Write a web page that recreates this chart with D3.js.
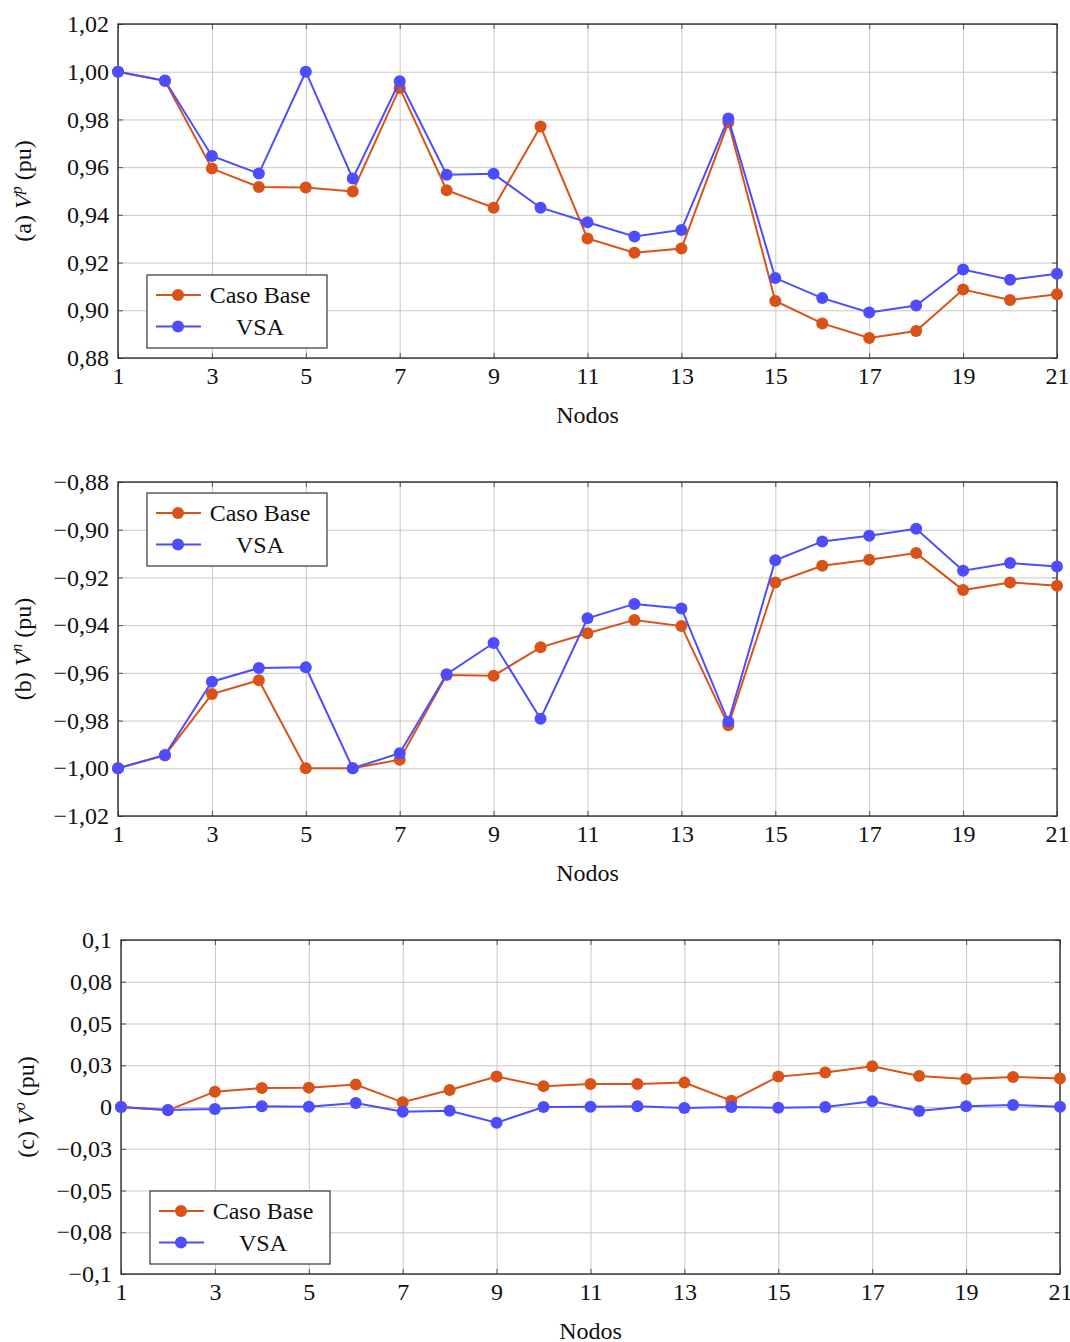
<!DOCTYPE html>
<html>
<head>
<meta charset="utf-8">
<script src="https://cdn.jsdelivr.net/npm/d3@7"></script>
<style>
  body { margin: 0; background: #fff; }
  svg text { font-family: "Liberation Serif", serif; fill: #111; }
</style>
</head>
<body>
<div id="chart"></div>
<script>
// Nodes 1..21
var nodos = d3.range(1, 22);
var xTicks = [1, 3, 5, 7, 9, 11, 13, 15, 17, 19, 21];

// (a) positive sequence voltage
var vpBase = [1.000, 0.9961, 0.9594, 0.9517, 0.9515, 0.9498, 0.9932, 0.9503, 0.9430, 0.9770,
              0.9301, 0.9241, 0.9259, 0.9788, 0.9039, 0.8945, 0.8884, 0.8913, 0.9087, 0.9043, 0.9067];
var vpVSA  = [1.000, 0.9963, 0.9647, 0.9573, 1.000, 0.9552, 0.9960, 0.9568, 0.9572, 0.9430,
              0.9369, 0.9309, 0.9337, 0.9804, 0.9135, 0.9051, 0.8991, 0.9020, 0.9171, 0.9128, 0.9153];
var yTicksA = [0.88, 0.90, 0.92, 0.94, 0.96, 0.98, 1.00, 1.02];
var yLabelsA = ["0,88", "0,90", "0,92", "0,94", "0,96", "0,98", "1,00", "1,02"];

// (b) negative sequence voltage
var vnBase = [-1.000, -0.9946, -0.9689, -0.9631, -1.000, -1.000, -0.9964, -0.9609, -0.9612, -0.9493,
              -0.9434, -0.9378, -0.9404, -0.9820, -0.9221, -0.9151, -0.9126, -0.9098, -0.9253, -0.9221, -0.9235];
var vnVSA  = [-1.000, -0.9944, -0.9637, -0.9580, -0.9577, -1.000, -0.9937, -0.9606, -0.9475, -0.9792,
              -0.9371, -0.9311, -0.9330, -0.9805, -0.9128, -0.9049, -0.9025, -0.8996, -0.9172, -0.9140, -0.9154];
var yTicksB = [-1.02, -1.00, -0.98, -0.96, -0.94, -0.92, -0.90, -0.88];
var yLabelsB = ["\u22121,02", "\u22121,00", "\u22120,98", "\u22120,96", "\u22120,94", "\u22120,92", "\u22120,90", "\u22120,88"];

// (c) zero sequence voltage
var voBase = [0.000, -0.0020, 0.0092, 0.0114, 0.0116, 0.0134, 0.0028, 0.0102, 0.0182, 0.0125,
              0.0138, 0.0138, 0.0146, 0.0038, 0.0182, 0.0206, 0.0244, 0.0186, 0.0168, 0.0180, 0.0170];
var voVSA  = [0.000, -0.0018, -0.0012, 0.0004, 0.0002, 0.0024, -0.0028, -0.0022, -0.0094, 0.0000,
              0.0002, 0.0004, -0.0006, 0.0000, -0.0004, 0.0000, 0.0034, -0.0024, 0.0004, 0.0012, 0.0002];
var yTicksC = [-0.1, -0.075, -0.05, -0.025, 0, 0.025, 0.05, 0.075, 0.1];
var yLabelsC = ["\u22120,1", "\u22120,08", "\u22120,05", "\u22120,03", "0", "0,03", "0,05", "0,08", "0,1"];

var seriesNames = ["Caso Base", "VSA"];
var colors = ["#d95319", "#4d4dff"];
var fs = 24;

var svg = d3.select("#chart").append("svg")
  .attr("width", 1070)
  .attr("height", 1342);

function styleText(s) {
  s.selectAll("text").attr("font-size", fs).attr("font-family", "Liberation Serif").attr("fill", "#111");
}

function drawPanel(p) {
  var x = d3.scaleLinear().domain([1, 21]).range([p.left, p.right]);
  var y = d3.scaleLinear().domain(p.domain).range([p.bottom, p.top]);
  var w = p.right - p.left, h = p.bottom - p.top;
  var g = svg.append("g");

  // grid
  g.append("g")
    .attr("transform", "translate(0," + p.bottom + ")")
    .call(d3.axisBottom(x).tickValues(xTicks).tickSize(-h).tickFormat(""))
    .call(function(s) { s.select(".domain").remove(); s.selectAll("line").attr("stroke", "#c8c8c8"); });
  g.append("g")
    .attr("transform", "translate(" + p.left + ",0)")
    .call(d3.axisLeft(y).tickValues(p.yTicks).tickSize(-w).tickFormat(""))
    .call(function(s) { s.select(".domain").remove(); s.selectAll("line").attr("stroke", "#c8c8c8"); });

  // inner ticks on all four sides
  var tk = 5;
  g.append("g").attr("transform", "translate(0," + p.bottom + ")")
    .call(d3.axisBottom(x).tickValues(xTicks).tickSize(-tk).tickPadding(9)
      .tickFormat(function(d) { return d; }))
    .call(function(s) {
      s.select(".domain").remove();
      s.selectAll("line").attr("stroke", "#555");
      styleText(s);
    });
  g.append("g").attr("transform", "translate(0," + p.top + ")")
    .call(d3.axisTop(x).tickValues(xTicks).tickSize(-tk).tickFormat(""))
    .call(function(s) { s.select(".domain").remove(); s.selectAll("line").attr("stroke", "#555"); });
  g.append("g").attr("transform", "translate(" + p.left + ",0)")
    .call(d3.axisLeft(y).tickValues(p.yTicks).tickSize(-tk).tickPadding(9)
      .tickFormat(function(d, i) { return p.yLabels[i]; }))
    .call(function(s) {
      s.select(".domain").remove();
      s.selectAll("line").attr("stroke", "#555");
      styleText(s);
    });
  g.append("g").attr("transform", "translate(" + p.right + ",0)")
    .call(d3.axisRight(y).tickValues(p.yTicks).tickSize(-tk).tickFormat(""))
    .call(function(s) { s.select(".domain").remove(); s.selectAll("line").attr("stroke", "#555"); });

  // frame
  g.append("rect")
    .attr("x", p.left).attr("y", p.top)
    .attr("width", w).attr("height", h)
    .attr("fill", "none").attr("stroke", "#222").attr("stroke-width", 1.3);

  // series
  var line = d3.line().x(function(d, i) { return x(nodos[i]); }).y(function(d) { return y(d); });
  p.series.forEach(function(vals, k) {
    g.append("path").datum(vals)
      .attr("d", line).attr("fill", "none")
      .attr("stroke", colors[k]).attr("stroke-width", 2);
    g.selectAll(".pt" + k).data(vals).enter().append("circle")
      .attr("cx", function(d, i) { return x(nodos[i]); })
      .attr("cy", function(d) { return y(d); })
      .attr("r", 6).attr("fill", colors[k]);
  });

  // x label
  g.append("text")
    .attr("x", (p.left + p.right) / 2).attr("y", p.bottom + 65)
    .attr("text-anchor", "middle").attr("font-size", fs)
    .text("Nodos");

  // y label
  var yl = g.append("text")
    .attr("transform", "translate(" + (p.left - 87) + "," + ((p.top + p.bottom) / 2) + ") rotate(-90)")
    .attr("text-anchor", "middle").attr("font-size", fs);
  yl.append("tspan").text("(" + p.tag + ") ");
  yl.append("tspan").attr("font-style", "italic").text("V");
  yl.append("tspan").attr("font-style", "italic").attr("font-size", 16).attr("dy", -9).text(p.sup);
  yl.append("tspan").attr("dy", 9).text(" (pu)");

  // legend
  var lx = p.left + 29, ly = p.legendTop;
  var lg = g.append("g");
  lg.append("rect").attr("x", lx).attr("y", ly).attr("width", 180).attr("height", 73)
    .attr("fill", "#fff").attr("stroke", "#444").attr("stroke-width", 1.3);
  seriesNames.forEach(function(name, k) {
    var cy = ly + 20 + k * 31.5;
    lg.append("line").attr("x1", lx + 9).attr("x2", lx + 54).attr("y1", cy).attr("y2", cy)
      .attr("stroke", colors[k]).attr("stroke-width", 2);
    lg.append("circle").attr("cx", lx + 31).attr("cy", cy).attr("r", 6).attr("fill", colors[k]);
    lg.append("text").attr("x", lx + 113).attr("y", cy + 8)
      .attr("text-anchor", "middle").attr("font-size", fs).text(name);
  });
}

drawPanel({ tag: "a", sup: "p", left: 118, right: 1057, top: 24, bottom: 358,
  domain: [0.88, 1.02], yTicks: yTicksA, yLabels: yLabelsA,
  series: [vpBase, vpVSA], legendTop: 275 });
drawPanel({ tag: "b", sup: "n", left: 118, right: 1057, top: 482, bottom: 816,
  domain: [-1.02, -0.88], yTicks: yTicksB, yLabels: yLabelsB,
  series: [vnBase, vnVSA], legendTop: 493 });
drawPanel({ tag: "c", sup: "o", left: 121, right: 1060, top: 940, bottom: 1274,
  domain: [-0.1, 0.1], yTicks: yTicksC, yLabels: yLabelsC,
  series: [voBase, voVSA], legendTop: 1191 });
</script>
</body>
</html>
